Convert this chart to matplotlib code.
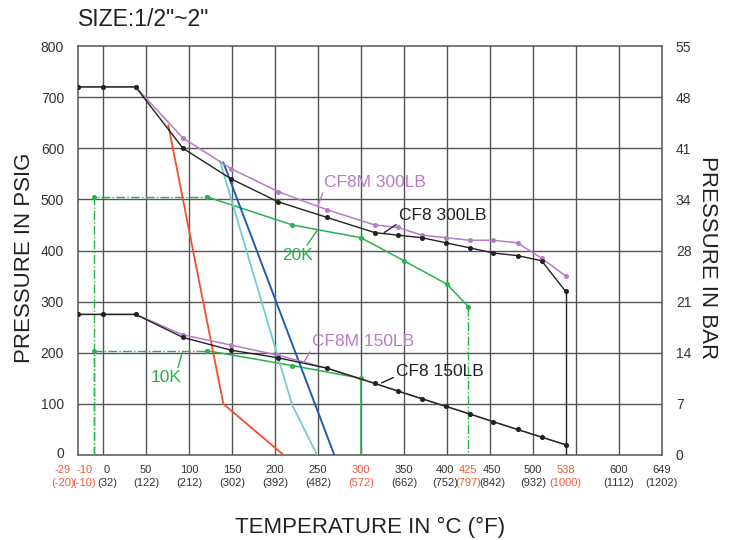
import matplotlib
matplotlib.use("Agg")
import matplotlib.pyplot as plt
import matplotlib.transforms as mtransforms
import numpy as np

plt.rcParams['font.family'] = ['Liberation Sans', 'DejaVu Sans']

# ---- data ----
temps = [-29, 0, 38, 93, 149, 204, 260, 316, 343, 371, 399, 427, 454, 482, 510, 538]
cf8m_300 = [720, 720, 720, 620, 560, 515, 480, 450, 445, 430, 425, 420, 420, 415, 385, 350]
cf8_300 = [720, 720, 720, 600, 540, 495, 465, 435, 430, 425, 415, 405, 395, 390, 380, 320]
cf8m_150 = [275, 275, 275, 235, 215, 195, 170, 140, 125, 110, 95, 80, 65, 50, 35, 20]
cf8_150 = [275, 275, 275, 230, 205, 190, 170, 140, 125, 110, 95, 80, 65, 50, 35, 20]

t_20k = [-10, -10, 121, 220, 300, 350, 400, 425, 425]
p_20k = [0, 505, 505, 450, 425, 380, 334, 290, 0]
t_10k = [-10, -10, 121, 220, 300, 300]
p_10k = [0, 204, 204, 175, 150, 0]

t_red = [76, 140, 210]
p_red = [645, 100, 0]
t_cyan = [136, 220, 249]
p_cyan = [575, 98, 0]
t_blue = [140, 269]
p_blue = [572, 0]

xticks_c = [-29, -10, 0, 50, 100, 150, 200, 250, 300, 350, 400, 425, 450, 500, 538, 600, 649]
xticks_f = [-20, -10, 32, 122, 212, 302, 392, 482, 572, 662, 752, 797, 842, 932, 1000, 1112, 1202]
red_ticks = [-29, -10, 300, 425, 538]
psi_ticks = [0, 100, 200, 300, 400, 500, 600, 700, 800]
bar_labels = [0, 7, 14, 21, 28, 34, 41, 48, 55]
grid_temps = [0, 50, 100, 150, 200, 250, 300, 350, 400, 450, 500, 550, 600]

# ---- colors ----
PURPLE = '#b77cc6'
BLACK = '#222222'
GREEN = '#26b34a'
RED = '#f0502a'
CYAN = '#6fcfcf'
BLUE = '#1f5cb3'
TICKRED = '#f05a3c'
GRID = '#555555'

fig = plt.figure(figsize=(7.3, 5.4), dpi=100)
ax = fig.add_axes([78/730, 85/540, (662-78)/730, (455-46)/540])
ax.set_xlim(-29, 650)
ax.set_ylim(0, 800)

# grid
for g in grid_temps:
    ax.axvline(g, color=GRID, lw=1.0, zorder=1)
for p in psi_ticks[1:-1]:
    ax.axhline(p, color=GRID, lw=1.0, zorder=1)
for s in ax.spines.values():
    s.set_color(GRID)
    s.set_linewidth(1.1)

mk = dict(marker='o', ms=2.6)

# 150 lb / 300 lb curves
ax.plot(temps, cf8m_300, color=PURPLE, lw=1.1, **mk, zorder=4)
ax.plot(temps, cf8_300, color=BLACK, lw=1.0, **mk, zorder=5)
ax.plot(temps, cf8m_150, color=PURPLE, lw=1.1, **mk, zorder=4)
ax.plot(temps, cf8_150, color=BLACK, lw=1.0, **mk, zorder=5)
ax.plot([temps[-1], temps[-1]], [0, cf8_300[-1]], color=BLACK, lw=1.0, zorder=3)

# seat ratings
ax.plot(t_20k[:3], p_20k[:3], color=GREEN, lw=1.0, ls='-.', zorder=3)
ax.plot(t_20k[1:3], p_20k[1:3], color=GREEN, lw=0, **mk, zorder=3)
ax.plot(t_20k[2:8], p_20k[2:8], color=GREEN, lw=1.1, **mk, zorder=3)
ax.plot(t_20k[7:], p_20k[7:], color=GREEN, lw=1.0, ls='-.', zorder=3)

ax.plot(t_10k[:3], p_10k[:3], color=GREEN, lw=1.0, ls='-.', zorder=3)
ax.plot(t_10k[1:3], p_10k[1:3], color=GREEN, lw=0, **mk, zorder=3)
ax.plot(t_10k[2:5], p_10k[2:5], color=GREEN, lw=1.1, **mk, zorder=3)
ax.plot(t_10k[4:], p_10k[4:], color=GREEN, lw=1.1, zorder=3)

ax.plot(t_red, p_red, color=RED, lw=1.3, zorder=3)
ax.plot(t_cyan, p_cyan, color=CYAN, lw=1.3, zorder=3)
ax.plot(t_blue, p_blue, color=BLUE, lw=1.4, zorder=3)

# annotations
def lab(text, xy, xytext, color, rel):
    ax.annotate(text, xy=xy, xytext=xytext, color=color, fontsize=12.5,
                va='center', ha='left', zorder=6,
                arrowprops=dict(arrowstyle='-', color=color, lw=1.0,
                                shrinkA=0, shrinkB=0, relpos=rel))

lab('CF8M 300LB', (250, 488), (257, 533), PURPLE, (0, 0))
lab('CF8 300LB', (327, 435), (344, 469), BLACK, (0, 0))
lab('20K', (249, 439), (208, 390), GREEN, (0.75, 1))
lab('CF8M 150LB', (233, 180), (243, 222), PURPLE, (0, 0))
lab('CF8 150LB', (324, 141), (341, 163), BLACK, (0, 0.2))
lab('10K', (92, 200), (56, 151), GREEN, (0.85, 1))

# x ticks
ax.set_xticks(xticks_c)
ax.set_xticklabels([f"{c}\n({f})" for c, f in zip(xticks_c, xticks_f)],
                   fontsize=8, linespacing=1.45)
ax.tick_params(axis='x', length=0, pad=7, colors='#333333')
shifts = {-29: -15, -10: -10, 0: 4, 400: -2, 450: 2}
for c, t in zip(xticks_c, ax.get_xticklabels()):
    if c in red_ticks:
        t.set_color(TICKRED)
    shift = shifts.get(c, 0)
    if shift:
        t.set_transform(t.get_transform() + mtransforms.ScaledTranslation(shift/100, 0, fig.dpi_scale_trans))

ax.set_yticks(psi_ticks)
ax.tick_params(axis='y', length=0, pad=10, labelsize=10, colors='#333333')
zero_lab = ax.get_yticklabels()[0]
zero_lab.set_transform(zero_lab.get_transform() + mtransforms.ScaledTranslation(0, 3/100, fig.dpi_scale_trans))

ax2 = ax.twinx()
ax2.set_ylim(0, 800)
ax2.set_yticks(psi_ticks)
ax2.set_yticklabels([str(b) for b in bar_labels])
ax2.tick_params(axis='y', length=0, pad=10, labelsize=10, colors='#333333')
for s in ax2.spines.values():
    s.set_visible(False)

fig.text(78/730, 1 - 20/540, 'SIZE:1/2"~2"', fontsize=16.5, ha='left', va='center', color='#222222')
fig.text(25/730, 1 - 258/540, 'PRESSURE IN PSIG', fontsize=16, rotation=90, ha='center', va='center', color='#222222')
fig.text(708/730, 1 - 258/540, 'PRESSURE IN BAR', fontsize=16, rotation=270, ha='center', va='center', color='#222222')
fig.text(370/730, 1 - 527/540, 'TEMPERATURE IN \u00b0C (\u00b0F)', fontsize=16, ha='center', va='center', color='#222222')

fig.savefig('out.png', dpi=100)
